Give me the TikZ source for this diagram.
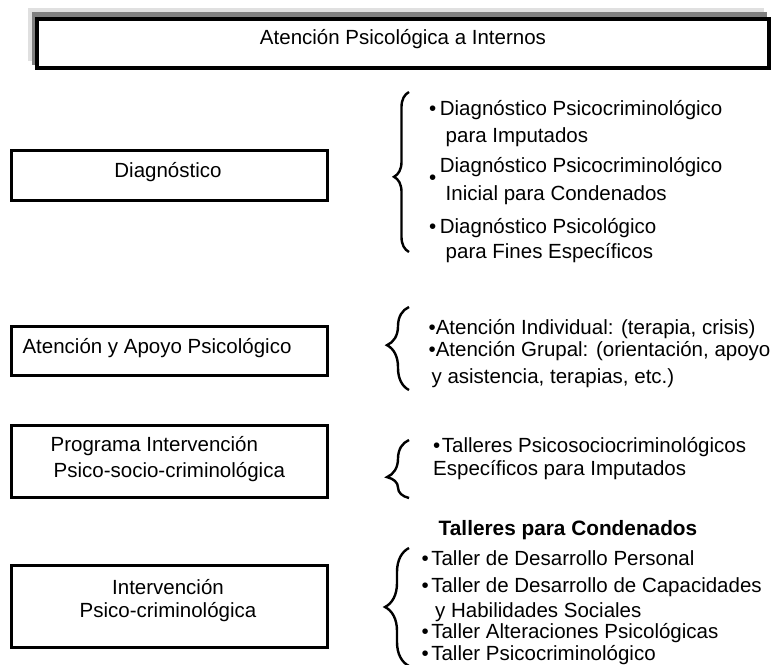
\documentclass[tikz,border=0pt]{standalone}
\usepackage{fontspec}
\setmainfont{Liberation Sans}
\usetikzlibrary{decorations.pathreplacing}
\definecolor{shadelight}{gray}{0.88}
\definecolor{shadedark}{gray}{0.5}
\newcommand{\fs}[1]{\fontsize{20.5}{#1}\selectfont}
\newcommand{\bul}[1]{\textbullet\hspace{#1}}
\begin{document}
\begin{tikzpicture}[x=1pt,y=-1pt,
  every node/.style={font=\fs{27},inner sep=0pt},
  sidebox/.style={draw,line width=3pt,minimum width=316pt},
  item/.style={anchor=west,align=left},
  curly/.style 2 args={decorate,decoration={brace,amplitude=#1,aspect=#2},line width=2.4pt}]
\useasboundingbox (0,0) rectangle (775,664);
% title with its shaded backing
\fill[shadelight] (28,8) rectangle (764,61);
\fill[shadedark] (32,12) rectangle (767,65);
\node[draw,line width=4pt,fill=white,minimum width=732pt,minimum height=49pt] (title) at (403,43.5) {};
\node (titletxt) at ([yshift=4.5pt]title.center) {Atención Psicológica a Internos};
% left column
\node[sidebox,minimum height=50pt] (diag) at (169.5,175.5) {};
\node[sidebox,minimum height=49pt] (aten) at (169.5,351) {};
\node[sidebox,minimum height=72pt] (prog) at (169.5,461.5) {};
\node[sidebox,minimum height=82pt] (interv) at (169.5,606.5) {};
\node (diagtxt) at ([xshift=-1.5pt,yshift=3.5pt]diag.center) {Diagnóstico};
\node (atentxt) at ([xshift=-12.5pt,yshift=3pt]aten.center) {Atención y Apoyo Psicológico};
\node[item,font=\fs{26}] (progtxt) at ([xshift=-119pt,yshift=2.7pt]prog.center) {Programa Intervención\\\hspace*{3pt}Psico-socio-criminológica};
\node[align=center,font=\fs{23}] (intervtxt) at ([xshift=-1.5pt,yshift=5.7pt]interv.center) {Intervención\\Psico-criminológica};
% braces
\coordinate (b1s) at (409,252); \coordinate (b1e) at (409,92);
\coordinate (b2s) at (409,390); \coordinate (b2e) at (409,307);
\coordinate (b3s) at (409,498); \coordinate (b3e) at (409,440);
\coordinate (b4s) at (409,666); \coordinate (b4e) at (409,548);
\draw[curly={15pt}{0.47}] (b1s) -- (b1e);
\draw[curly={22pt}{0.54}] (b2s) -- (b2e);
\draw[curly={22pt}{0.36}] (b3s) -- (b3e);
\draw[curly={24pt}{0.5}] (b4s) -- (b4e);
% diagnostico items
\node[item] (d1) at (429,124) {\bul{3.5pt}Diagnóstico Psicocriminológico\\\hspace*{16.5pt}para Imputados};
\node[item,font=\fs{28}] (d2) at (429,181.5) {\raisebox{-12pt}{\textbullet}\hspace{3.5pt}Diagnóstico Psicocriminológico\\\hspace*{16.5pt}Inicial para Condenados};
\node[item,font=\fs{25}] (d3) at (429,240.3) {\bul{3.5pt}Diagnóstico Psicológico\\\hspace*{16.5pt}para Fines Específicos};
% atencion items
\node[item,font=\fs{22}] (a1) at (428.4,354) {\bul{0pt}Atención Individual: (terapia, crisis)\\\bul{0pt}Atención Grupal: (orientación, apoyo\\[5pt]\hspace*{3pt}y asistencia, terapias, etc.)};
% programa items
\node[item,font=\fs{23}] (p1) at (433,458.5) {\bul{1.5pt}Talleres Psicosociocriminológicos\\Específicos para Imputados};
% talleres items
\node[font=\bfseries\fontsize{20.8}{25}\selectfont] (tallhead) at (568,530) {Talleres para Condenados};
\node[item] (t1) at (421.4,558) {\bul{2.5pt}Taller de Desarrollo Personal};
\node[item,font=\fs{25}] (t2) at (421.4,599.5) {\bul{2.5pt}Taller de Desarrollo de Capacidades\\\hspace*{13.6pt}y Habilidades Sociales};
\node[item] (t3) at (421.4,633) {\bul{2.5pt}Taller Alteraciones Psicológicas};
\node[item] (t4) at (421.4,655) {\bul{2.5pt}Taller Psicocriminológico};
\end{tikzpicture}
\end{document}
